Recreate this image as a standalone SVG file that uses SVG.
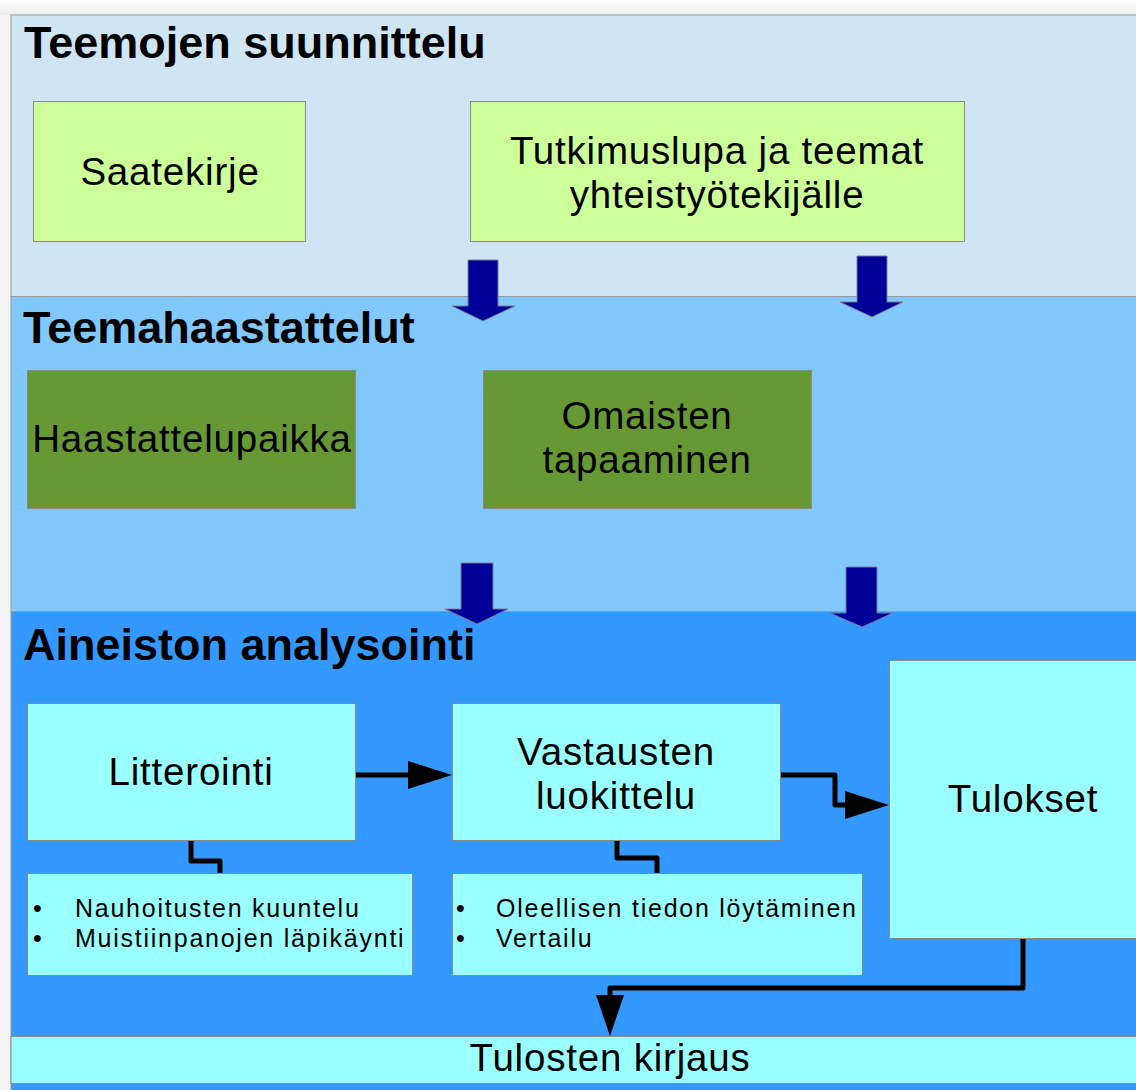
<svg xmlns="http://www.w3.org/2000/svg" width="1136" height="1090" viewBox="0 0 1136 1090">
<defs>
<linearGradient id="topg" x1="0" y1="0" x2="0" y2="1"><stop offset="0" stop-color="#fcfcfc"/><stop offset="1" stop-color="#ececec"/></linearGradient>
</defs>
<style>
text{font-family:"Liberation Sans",Arial,Helvetica,sans-serif;fill:#000}
.title{font-size:45px;font-weight:bold}
.box{font-size:38.5px;letter-spacing:0.8px}
.small{font-size:25px;letter-spacing:1.75px}
.band{stroke:#999;stroke-width:1}
.g1{fill:#ccff99;stroke:#8a8a8a;stroke-width:1}
.g2{fill:#669933;stroke:#8a8a8a;stroke-width:1}
.c{fill:#99ffff;stroke:#8a8a8a;stroke-width:1}
.barrow{fill:#000099;stroke:#7a7a9a;stroke-width:1}
.ln{fill:none;stroke:#000;stroke-width:5;stroke-linejoin:round}
.hd{fill:#000}
</style>
<rect x="0" y="0" width="1136" height="1090" fill="#f3f3f3"/>
<rect x="0" y="0" width="1136" height="15" fill="url(#topg)"/>
<g id="bands">
<rect class="band" x="11" y="15" width="1130" height="281.5" fill="#cfe5f3"/>
<rect class="band" x="11" y="296.5" width="1130" height="315" fill="#81c8fc"/>
<rect class="band" x="11" y="611.5" width="1130" height="490" fill="#3399ff"/>
<text class="title" x="24" y="58">Teemojen suunnittelu</text>
<text class="title" x="23" y="343">Teemahaastattelut</text>
<text class="title" x="23" y="660">Aineiston analysointi</text>
</g>
<g id="saatekirje">
<rect class="g1" x="33.5" y="101.5" width="272" height="140"/>
<text class="box" x="170" y="185" text-anchor="middle">Saatekirje</text>
</g>
<g id="tutkimuslupa">
<rect class="g1" x="470.5" y="101.5" width="494" height="140"/>
<text class="box" x="717" y="164" text-anchor="middle">Tutkimuslupa ja teemat</text>
<text class="box" x="717" y="208" text-anchor="middle">yhteistyötekijälle</text>
</g>
<g id="haastattelupaikka">
<rect class="g2" x="27.5" y="370.5" width="328" height="138"/>
<text class="box" x="192" y="452" text-anchor="middle">Haastattelupaikka</text>
</g>
<g id="omaisten">
<rect class="g2" x="483.5" y="370.5" width="328" height="138"/>
<text class="box" x="647" y="429" text-anchor="middle">Omaisten</text>
<text class="box" x="647" y="473" text-anchor="middle">tapaaminen</text>
</g>
<g id="litterointi">
<rect class="c" x="27.5" y="703.5" width="328" height="137"/>
<text class="box" x="191" y="785" text-anchor="middle">Litterointi</text>
</g>
<g id="vastausten">
<rect class="c" x="452.5" y="703.5" width="328" height="137"/>
<text class="box" x="616" y="765" text-anchor="middle">Vastausten</text>
<text class="box" x="616" y="809" text-anchor="middle">luokittelu</text>
</g>
<g id="tulokset">
<rect class="c" x="889.5" y="660.5" width="260" height="278"/>
<text class="box" x="1023" y="812" text-anchor="middle">Tulokset</text>
</g>
<g id="bullets1">
<rect class="c" x="27.5" y="873.5" width="385" height="102"/>
<text class="small" x="33" y="917">•</text>
<text class="small" x="75" y="917">Nauhoitusten kuuntelu</text>
<text class="small" x="33" y="947">•</text>
<text class="small" x="75" y="947">Muistiinpanojen läpikäynti</text>
</g>
<g id="bullets2">
<rect class="c" x="452.5" y="873.5" width="410" height="102"/>
<text class="small" x="456" y="917">•</text>
<text class="small" x="496" y="917">Oleellisen tiedon löytäminen</text>
<text class="small" x="456" y="947">•</text>
<text class="small" x="496" y="947">Vertailu</text>
</g>
<g id="kirjaus">
<rect class="c" x="11" y="1036.5" width="1130" height="47"/>
<text class="box" x="610" y="1071" text-anchor="middle">Tulosten kirjaus</text>
</g>
<g id="block-arrows">
<polygon class="barrow" points="468,260 498,260 498,306 515,306 483,321 452,306 468,306"/>
<polygon class="barrow" points="857,256 887,256 887,302 903,302 872,317 840,302 857,302"/>
<polygon class="barrow" points="461,563 493,563 493,609 508,609 477,624 445,609 461,609"/>
<polygon class="barrow" points="846,567 877,567 877,613 893,613 862,627 830,613 846,613"/>
</g>
<g id="connectors">
<path class="ln" d="M356,775 H410"/>
<polygon class="hd" points="408,761 452,775 408,789"/>
<path class="ln" d="M781,775 H835 V805 H847"/>
<polygon class="hd" points="845,791 889,805 845,819"/>
<path class="ln" d="M191,841 V861 H220 V873"/>
<path class="ln" d="M617,841 V858 H657 V873"/>
<path class="ln" d="M1023,939 V988 H610 V997"/>
<polygon class="hd" points="596,995 624,995 610,1036"/>
</g>
</svg>
